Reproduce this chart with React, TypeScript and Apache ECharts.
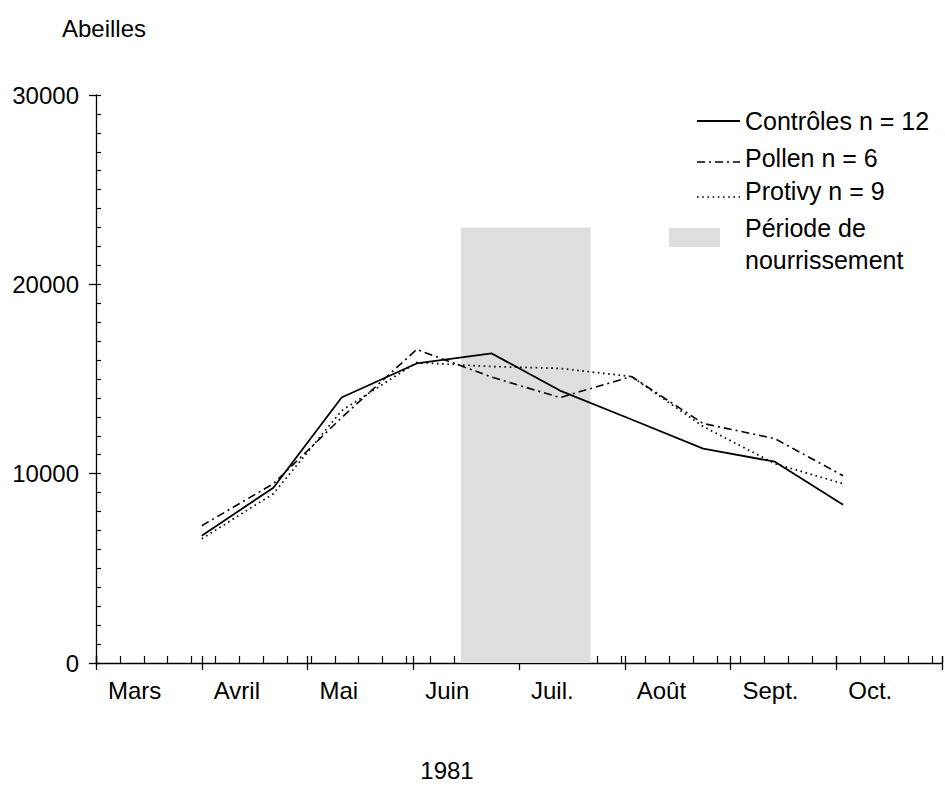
import React, { useEffect, useRef } from "react";
import * as echarts from "echarts";

// Days since 1 March 1981 (axis uses 31-day month spacing)
const sampleDays = [31, 52, 72, 94, 116, 136, 157, 178, 199, 219];
const controles = [6720, 9260, 14020, 15820, 16350, 14390, 12860, 11320, 10630, 8360];
const pollen = [7250, 9470, 12960, 16560, 15100, 14020, 15130, 12650, 11850, 9890];
const protivy = [6560, 8940, 13330, 15870, 15660, 15560, 15130, 12490, 10530, 9470];
const monthLabels = ["Mars", "Avril", "Mai", "Juin", "Juil.", "Août", "Sept.", "Oct."];
const seriesNames = ["Contrôles n = 12", "Pollen n = 6", "Protivy n = 9"];
const feedingPeriod = [107, 145];
const feedingTop = 23000;
const yTicks = [0, 10000, 20000, 30000];

const FONT = '"Liberation Sans", Arial, sans-serif';
const MONTH = 31;
const DAY_MAX = MONTH * 8;

export default function App() {
  const ref = useRef<HTMLDivElement>(null);
  useEffect(() => {
    if (!ref.current) return;
    const chart = echarts.init(ref.current, null, { renderer: "svg" });
    const pairs = (vals: number[]) => sampleDays.map((d, i) => [d, vals[i]]);
    const black = "#000";
    const baseX = {
      type: "value",
      min: 0,
      max: DAY_MAX,
      position: "bottom",
      splitLine: { show: false },
      axisLine: { show: false, onZero: false },
      axisLabel: { show: false },
    };
    const baseY = {
      type: "value",
      min: yTicks[0],
      max: yTicks[yTicks.length - 1],
      interval: yTicks[1] - yTicks[0],
      position: "left",
      splitLine: { show: false },
    };
    chart.setOption({
      animation: false,
      backgroundColor: "#fff",
      grid: { left: 96, right: 1, top: 95, bottom: 126, containLabel: false },
      xAxis: [
        {
          ...baseX,
          interval: MONTH,
          axisLine: { show: true, onZero: false, lineStyle: { color: black, width: 1.3 } },
          axisTick: { show: true, inside: false, length: 7, lineStyle: { color: black, width: 1.3 } },
          axisLabel: {
            show: true,
            formatter: (v: number) => monthLabels[Math.round(v / MONTH)] ?? "",
            align: "left",
            padding: [0, 0, 0, 12],
            margin: 15,
            fontSize: 24,
            color: black,
            fontFamily: FONT,
            showMaxLabel: true,
            showMinLabel: true,
          },
        },
        {
          ...baseX,
          interval: MONTH,
          axisTick: { show: true, inside: true, length: 7, lineStyle: { color: black, width: 1.3 } },
        },
        {
          ...baseX,
          interval: 7,
          axisTick: { show: true, inside: true, length: 7, lineStyle: { color: black, width: 1.2 } },
        },
      ],
      yAxis: [
        {
          ...baseY,
          axisLine: { show: true, onZero: false, lineStyle: { color: black, width: 1.3 } },
          axisTick: { show: true, inside: false, length: 7, lineStyle: { color: black, width: 1.3 } },
          axisLabel: {
            show: true,
            margin: 17,
            fontSize: 24,
            color: black,
            fontFamily: FONT,
            formatter: (v: number) => String(v),
          },
        },
        {
          ...baseY,
          axisLine: { show: false },
          axisTick: { show: true, inside: true, length: 5, lineStyle: { color: black, width: 1.2 } },
          minorTick: { show: true, splitNumber: 10, length: 5, lineStyle: { color: black, width: 1.2 } },
          axisLabel: { show: false },
        },
      ],
      series: [
        {
          type: "line",
          name: "feeding",
          data: [],
          z: 1,
          silent: true,
          markArea: {
            silent: true,
            itemStyle: { color: "#dedede" },
            data: [[{ xAxis: feedingPeriod[0], yAxis: 0 }, { xAxis: feedingPeriod[1], yAxis: feedingTop }]],
          },
        },
        {
          type: "line",
          name: seriesNames[0],
          data: pairs(controles),
          showSymbol: false,
          symbol: "none",
          z: 5,
          lineStyle: { color: black, width: 1.8, type: "solid" },
        },
        {
          type: "line",
          name: seriesNames[1],
          data: pairs(pollen),
          showSymbol: false,
          symbol: "none",
          z: 4,
          lineStyle: { color: black, width: 1.6, type: [8, 4, 2, 4] },
        },
        {
          type: "line",
          name: seriesNames[2],
          data: pairs(protivy),
          showSymbol: false,
          symbol: "none",
          z: 3,
          lineStyle: { color: black, width: 1.7, type: [1.6, 3.6] },
        },
      ],
      graphic: [
        { type: "text", x: 62, y: 28, style: { text: "Abeilles", font: `24px ${FONT}`, fill: black, textAlign: "left", textVerticalAlign: "middle" } },
        { type: "text", x: 447, y: 770, style: { text: "1981", font: `24px ${FONT}`, fill: black, textAlign: "center", textVerticalAlign: "middle" } },
        { type: "line", shape: { x1: 697, y1: 121, x2: 740, y2: 121 }, style: { stroke: black, lineWidth: 1.8 } },
        { type: "line", shape: { x1: 697, y1: 162, x2: 740, y2: 162 }, style: { stroke: black, lineWidth: 1.6, lineDash: [8, 4, 2, 4] } },
        { type: "line", shape: { x1: 697, y1: 197, x2: 740, y2: 197 }, style: { stroke: black, lineWidth: 1.7, lineDash: [1.6, 3.6] } },
        { type: "rect", shape: { x: 669, y: 228, width: 51, height: 19 }, style: { fill: "#dedede" } },
        { type: "text", x: 745, y: 121, style: { text: seriesNames[0], font: `25px ${FONT}`, fill: black, textVerticalAlign: "middle" } },
        { type: "text", x: 745, y: 158, style: { text: seriesNames[1], font: `25px ${FONT}`, fill: black, textVerticalAlign: "middle" } },
        { type: "text", x: 745, y: 190.5, style: { text: seriesNames[2], font: `25px ${FONT}`, fill: black, textVerticalAlign: "middle" } },
        { type: "text", x: 745, y: 228, style: { text: "Période de", font: `25px ${FONT}`, fill: black, textVerticalAlign: "middle" } },
        { type: "text", x: 745, y: 260, style: { text: "nourrissement", font: `25px ${FONT}`, fill: black, textVerticalAlign: "middle" } },
      ],
    });
    return () => chart.dispose();
  }, []);
  return (
    <div
      ref={ref}
      style={{ position: "fixed", left: 0, top: 0, width: 945, height: 789, background: "#fff" }}
    />
  );
}
